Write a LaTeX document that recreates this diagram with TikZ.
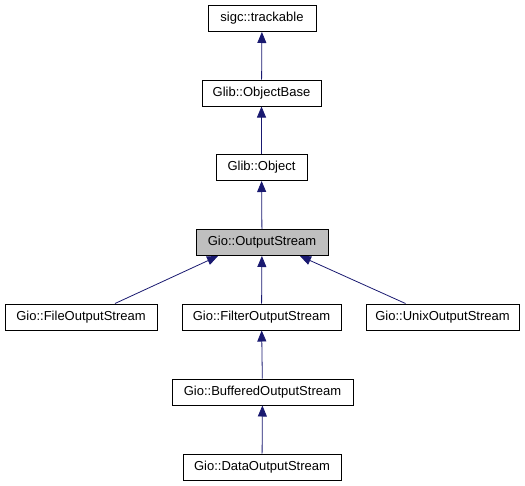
\documentclass[tikz,border=0pt]{standalone}
\usepackage{fontspec}
\setmainfont{Liberation Sans}
\usetikzlibrary{arrows.meta}

\definecolor{edgeblue}{HTML}{191970}
\tikzset{
	cls/.style={draw, line width=1pt, minimum height=26pt, inner sep=0pt, font=\fontsize{13}{15}\selectfont},
	inherit/.style={edgeblue, line width=0.8pt, {Triangle[length=11pt,width=9pt]}-}
}

\begin{document}
\begin{tikzpicture}[x=1pt,y=-1pt]
		\useasboundingbox (0,0) rectangle (525,485);
		
		\node (track) at (262,18.5) [cls, minimum width=108pt] {sigc::trackable};
		\node (obase) at (261.5,93) [cls, minimum width=119pt] {Glib::ObjectBase};
		\node (obj) at (261.5,167.5) [cls, minimum width=91pt] {Glib::Object};
		\node (ostream) at (262,242.5) [cls, minimum width=132pt, fill=black!25] {Gio::OutputStream};
		
		\node (file) at (81,317) [cls, minimum width=152pt] {Gio::FileOutputStream};
		\node (filter) at (261.5,317) [cls, minimum width=159pt] {Gio::FilterOutputStream};
		\node (unix) at (442.5,317) [cls, minimum width=153pt] {Gio::UnixOutputStream};
		
		\node (buffered) at (262.5,392) [cls, minimum width=181pt] {Gio::BufferedOutputStream};
		\node (data) at (262,467) [cls, minimum width=158pt] {Gio::DataOutputStream};
		
		\draw[inherit] (track) -- (obase);
		\draw[inherit] (obase) -- (obj);
		\draw[inherit] (obj) -- (ostream);
		\draw[inherit] ([xshift=-44pt]ostream.south) -- ([xshift=34pt]file.north);
		\draw[inherit] (ostream) -- (filter);
		\draw[inherit] ([xshift=38pt]ostream.south) -- ([xshift=-37pt]unix.north);
		\draw[inherit] (filter) -- (buffered);
		\draw[inherit] (buffered) -- (data);
		
	\end{tikzpicture}
\end{document}
